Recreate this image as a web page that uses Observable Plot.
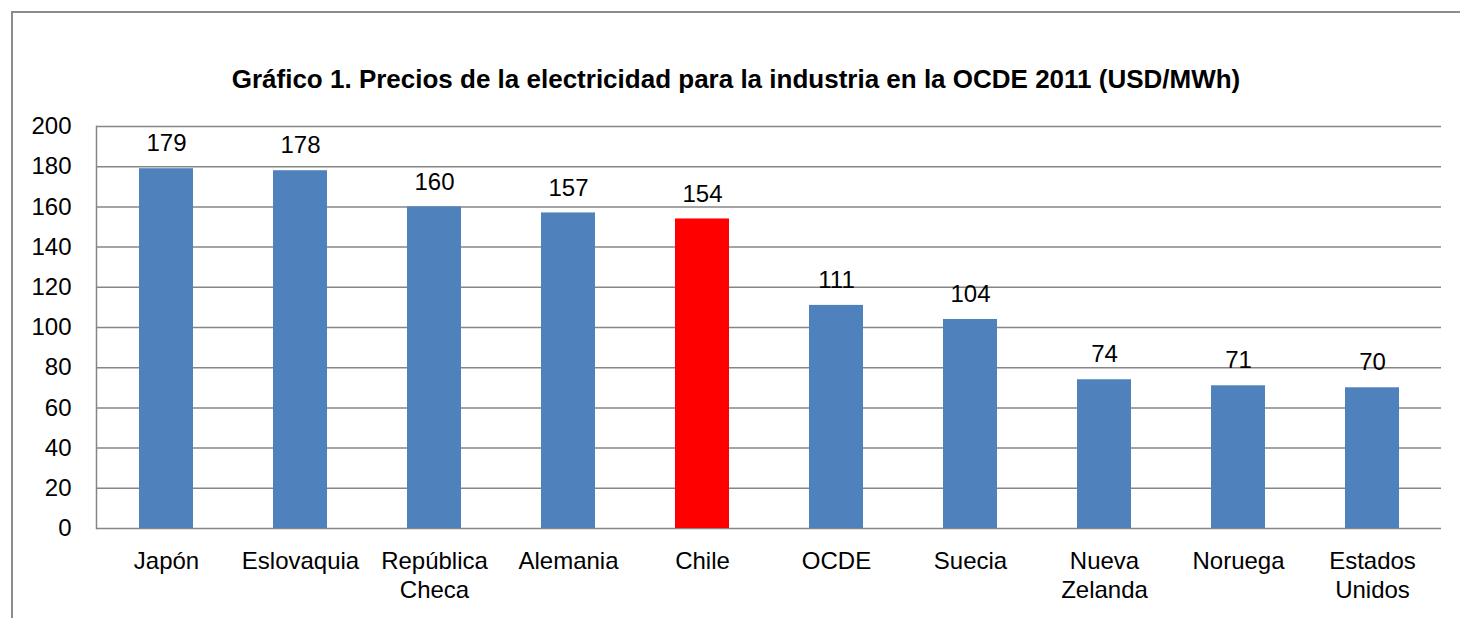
<!DOCTYPE html>
<html>
<head>
<meta charset="utf-8">
<script src="https://cdn.jsdelivr.net/npm/d3@7"></script>
<script src="https://cdn.jsdelivr.net/npm/@observablehq/plot@0.6"></script>
<style>
  html, body { margin: 0; padding: 0; background: #fff; }
  #wrap { position: relative; width: 1460px; height: 618px; overflow: hidden; font-family: "Liberation Sans", Arial, sans-serif; }
  #frame { position: absolute; left: 11px; top: 11px; width: 1460px; height: 620px; border-left: 2px solid #8c8c8c; border-top: 2px solid #8c8c8c; box-sizing: border-box; }
  #title { position: absolute; left: 0; width: 1472px; top: 64px; text-align: center; font-weight: bold; font-size: 26px; color: #000; line-height: 30px; white-space: nowrap; }
  #chart { position: absolute; left: 0; top: 0; }
</style>
</head>
<body>
<div id="wrap">
  <div id="frame"></div>
  <div id="chart"></div>
  <div id="title">Gráfico 1. Precios de la electricidad para la industria en la OCDE 2011 (USD/MWh)</div>
</div>
<script>
const categories = ["Japón", "Eslovaquia", "República Checa", "Alemania", "Chile", "OCDE", "Suecia", "Nueva Zelanda", "Noruega", "Estados Unidos"];
const tickLabels = ["Japón", "Eslovaquia", "República\nCheca", "Alemania", "Chile", "OCDE", "Suecia", "Nueva\nZelanda", "Noruega", "Estados\nUnidos"];
const values = [179, 178, 160, 157, 154, 111, 104, 74, 71, 70];
const highlight = "Chile";
const yTicks = [0, 20, 40, 60, 80, 100, 120, 140, 160, 180, 200];

const data = categories.map((c, i) => ({category: c, value: values[i]}));
const labelOf = new Map(categories.map((c, i) => [c, tickLabels[i]]));

const chart = Plot.plot({
  width: 1460,
  height: 618,
  marginLeft: 96,
  marginRight: 19,
  marginTop: 126,
  marginBottom: 90,
  style: {fontFamily: "'Liberation Sans', Arial, sans-serif", fontSize: "24px", color: "#000", background: "transparent", overflow: "visible"},
  x: {domain: categories, paddingInner: 0.6, paddingOuter: 0.3, label: null},
  y: {domain: [0, 200], label: null},
  marks: [
    Plot.ruleY(yTicks, {stroke: "#868686", strokeWidth: 1.5}),
    Plot.barY(data, {x: "category", y: "value", fill: d => d.category === highlight ? "#FF0000" : "#4F81BD"}),
    Plot.frame({anchor: "left", stroke: "#868686", strokeWidth: 1.5}),
    Plot.text(data, {x: "category", y: "value", text: d => String(d.value), dy: -25, fontSize: 24, fill: "#000"}),
    Plot.axisY(yTicks, {tickSize: 0, tickPadding: 25, fontSize: 24, fill: "#000", label: null}),
    Plot.axisX({tickSize: 0, tickPadding: 20, fontSize: 24, fill: "#000", lineHeight: 1.2, tickFormat: d => labelOf.get(d), label: null})
  ]
});
document.getElementById("chart").appendChild(chart);
</script>
</body>
</html>
